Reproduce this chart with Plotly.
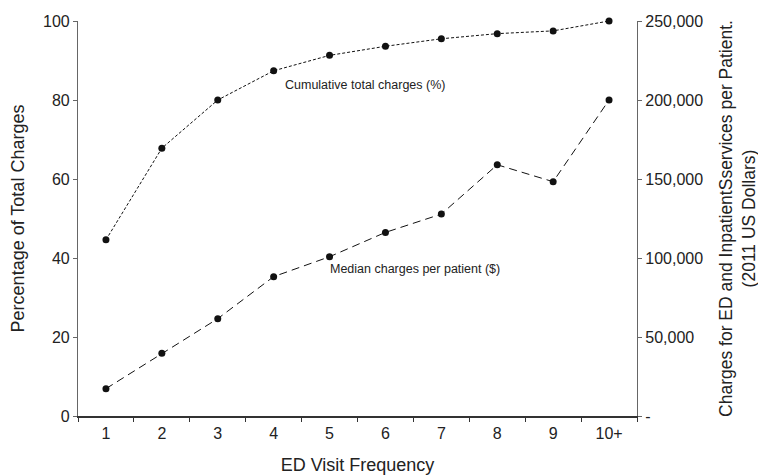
import plotly.graph_objects as go

categories = ["1", "2", "3", "4", "5", "6", "7", "8", "9", "10+"]
cumulative_pct = [44.6, 67.8, 80.0, 87.4, 91.3, 93.6, 95.5, 96.8, 97.5, 100.0]
median_charges = [17300, 39700, 61600, 88200, 100800, 116200, 127800, 159000, 148300, 200000]
right_tickvals = [0, 50000, 100000, 150000, 200000, 250000]
right_ticktext = ["-", "50,000", "100,000", "150,000", "200,000", "250,000"]

font_family = "Liberation Sans, Arial, sans-serif"
txt = "#222222"

fig = go.Figure()
fig.add_trace(go.Scatter(
    x=categories, y=cumulative_pct, mode="lines+markers",
    line=dict(color="#111111", width=1, dash="3px,2px"),
    marker=dict(color="#111111", size=7),
    yaxis="y", showlegend=False, cliponaxis=False))
fig.add_trace(go.Scatter(
    x=categories, y=median_charges, mode="lines+markers",
    line=dict(color="#111111", width=1, dash="8px,5px"),
    marker=dict(color="#111111", size=7),
    yaxis="y2", showlegend=False, cliponaxis=False))

fig.update_layout(
    width=758, height=467,
    margin=dict(l=70, r=129, t=13, b=59, autoexpand=False),
    paper_bgcolor="white", plot_bgcolor="white",
    font=dict(family=font_family, color=txt, size=16),
    xaxis=dict(
        type="category", range=[-0.5, 9.5], tickson="boundaries",
        showline=True, linecolor="#333333", linewidth=1.5,
        ticks="outside", ticklen=4, tickcolor="#333333",
        showgrid=False, zeroline=False, automargin=False,
        title=dict(text="ED Visit Frequency", font=dict(size=18), standoff=22),
        tickfont=dict(size=16), ticklabelstandoff=2,
    ),
    yaxis=dict(
        range=[0, 100], tickvals=[0, 20, 40, 60, 80, 100],
        showline=True, linecolor="#666666", linewidth=1.2,
        ticks="outside", ticklen=4, tickcolor="#666666",
        showgrid=False, zeroline=False, automargin=False,
        title=dict(text="Percentage of Total Charges", font=dict(size=18), standoff=21),
        tickfont=dict(size=16),
    ),
    yaxis2=dict(
        range=[0, 250000], overlaying="y", side="right",
        tickvals=right_tickvals, ticktext=right_ticktext,
        showline=True, linecolor="#666666", linewidth=1.2,
        ticks="outside", ticklen=4, tickcolor="#666666",
        showgrid=False, zeroline=False, automargin=False,
        title=dict(text="Charges for ED and InpatientSservices per Patient.<br>(2011 US Dollars)",
                   font=dict(size=17.5), standoff=17),
        tickfont=dict(size=16),
    ),
    annotations=[
        dict(x=3.17, y=83.8, xref="x", yref="y", text="Cumulative total charges (%)",
             showarrow=False, xanchor="left", yanchor="middle", font=dict(size=12.5, color=txt)),
        dict(x=3.97, y=37.2, xref="x", yref="y", text="Median charges per patient ($)",
             showarrow=False, xanchor="left", yanchor="middle", font=dict(size=12.5, color=txt)),
    ],
)

fig.write_html("out.html")
